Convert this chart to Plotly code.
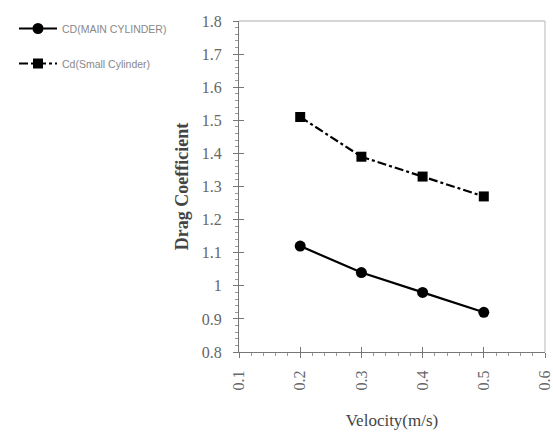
import plotly.graph_objects as go

velocity = [0.2, 0.3, 0.4, 0.5]
cd_main = [1.12, 1.04, 0.98, 0.92]
cd_small = [1.51, 1.39, 1.33, 1.27]
x_ticks = [0.1, 0.2, 0.3, 0.4, 0.5, 0.6]
y_ticks = [0.8, 0.9, 1.0, 1.1, 1.2, 1.3, 1.4, 1.5, 1.6, 1.7, 1.8]
y_tick_text = ["0.8", "0.9", "1", "1.1", "1.2", "1.3", "1.4", "1.5", "1.6", "1.7", "1.8"]

fig = go.Figure()
fig.add_trace(go.Scatter(
    x=velocity, y=cd_main, mode="lines+markers", name="CD(MAIN CYLINDER)",
    line=dict(color="black", width=2.2), marker=dict(symbol="circle", size=11, color="black"),
    legendgroup="a"))
fig.add_trace(go.Scatter(
    x=velocity, y=cd_small, mode="lines+markers", name="Cd(Small Cylinder)",
    line=dict(color="black", width=2.2, dash="dashdot"),
    marker=dict(symbol="square", size=10, color="black"),
    legendgroup="b"))
# empty trace to realise the overlay axes (crossing major ticks)
fig.add_trace(go.Scatter(x=[], y=[], xaxis="x2", yaxis="y2", showlegend=False, hoverinfo="skip"))

tickfont = dict(family="Liberation Serif", size=16, color="#666")
fig.update_layout(
    width=553, height=432,
    margin=dict(l=239, r=8, t=21, b=80),
    paper_bgcolor="white", plot_bgcolor="white",
    showlegend=True,
    legend=dict(xref="container", yref="container", x=14 / 553, y=1 - 14 / 432,
                xanchor="left", yanchor="top", itemwidth=38,
                font=dict(family="Liberation Sans", size=10.5, color="#888"),
                tracegroupgap=16, traceorder="grouped", bgcolor="rgba(0,0,0,0)"),
    xaxis=dict(range=[0.1, 0.6], tickvals=x_ticks, tickformat=".1f", automargin=False,
               ticks="outside", ticklen=5, tickcolor="#777", tickwidth=1,
               minor=dict(dtick=0.02, ticks="outside", ticklen=3, tickcolor="#999"),
               showline=True, linecolor="#777", linewidth=1.3,
               showgrid=False, zeroline=False, tickangle=-90,
               tickfont=tickfont, ticklabelstandoff=6, ticklabeloverflow="allow",
               title=dict(text="Velocity(m/s)",
                          font=dict(family="Liberation Serif", size=17, color="#444"),
                          standoff=24)),
    yaxis=dict(range=[0.8, 1.8], tickvals=y_ticks, ticktext=y_tick_text, automargin=False,
               ticks="outside", ticklen=5, tickcolor="#777", tickwidth=1,
               minor=dict(dtick=0.02, ticks="outside", ticklen=3, tickcolor="#999"),
               showline=True, linecolor="#777", linewidth=1.3,
               showgrid=False, zeroline=False,
               tickfont=tickfont, ticklabelstandoff=8,
               title=dict(text="<b>Drag Coefficient</b>",
                          font=dict(family="Liberation Serif", size=18, color="#444"),
                          standoff=8)),
    xaxis2=dict(overlaying="x", anchor="y2", side="bottom", range=[0.1, 0.6], tickvals=x_ticks,
                ticks="inside", ticklen=5, tickcolor="#777", showticklabels=False,
                showline=False, showgrid=False, zeroline=False, automargin=False),
    yaxis2=dict(overlaying="y", anchor="x2", side="left", range=[0.8, 1.8], tickvals=y_ticks,
                ticks="inside", ticklen=5, tickcolor="#777", showticklabels=False,
                showline=False, showgrid=False, zeroline=False, automargin=False),
    shapes=[
        dict(type="line", xref="paper", yref="paper", x0=0, x1=1, y0=1, y1=1,
             line=dict(color="#c8c8c8", width=1.3)),
        dict(type="line", xref="paper", yref="paper", x0=1, x1=1, y0=0, y1=1,
             line=dict(color="#c8c8c8", width=1.3)),
    ],
)

fig.write_html("out.html")
